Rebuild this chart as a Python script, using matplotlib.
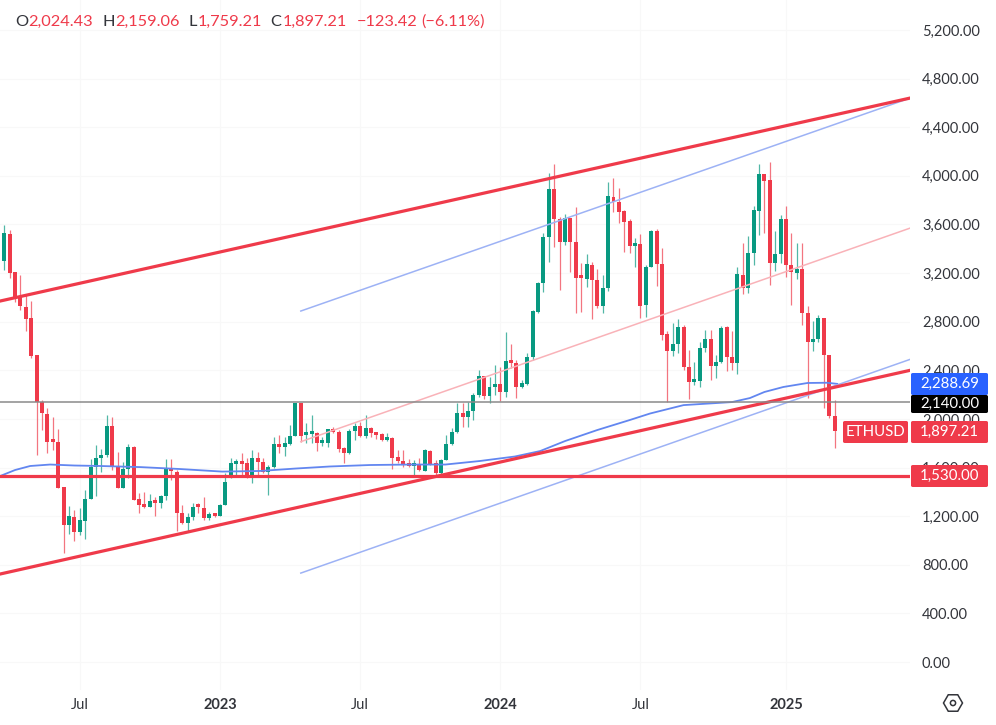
import math
import matplotlib
matplotlib.use("Agg")
import matplotlib.pyplot as plt
from matplotlib.patches import FancyBboxPatch, RegularPolygon, Circle

plt.rcParams['font.family'] = ['Lato', 'DejaVu Sans']

opens = [3300,3522,3206,3001,2924,2833,2526,2142,2038,1818,1807,1443,1127,1196,1067,1163,1338,1602,1681,1703,
1942,1615,1429,1585,1772,1338,1297,1278,1325,1311,1366,1593,1566,1223,1141,1196,1283,1270,1188,1218,
1204,1292,1538,1629,1648,1634,1517,1681,1648,1566,1602,1791,1772,1791,1859,2134,1868,1873,1887,1804,
1804,1914,1895,1758,1717,1903,1942,1859,1928,1890,1873,1826,1840,1689,1656,1634,1612,1621,1574,1739,
1634,1552,1662,1794,1895,2046,2019,2065,2197,2353,2191,2265,2285,2224,2477,2463,2260,2285,2507,2877,
3116,3494,3889,3645,3453,3651,3459,3171,3151,3267,3143,2929,3075,3829,3788,3714,3631,3423,3442,2938,
3247,3546,3275,2699,2559,2617,2759,2430,2301,2315,2581,2660,2438,2466,2754,2512,2457,3184,3075,3368,
3711,4015,3966,3280,3354,3645,3267,3198,3234,2869,2630,2655,2828,2526,2024.43]
closes = [3527,3204,2984,2929,2825,2518,2142,2046,1813,1807,1434,1127,1201,1067,1168,1338,1602,1681,1703,1942,
1607,1429,1585,1772,1333,1292,1278,1325,1311,1369,1593,1574,1223,1141,1196,1278,1272,1182,1218,1204,
1289,1484,1634,1648,1629,1511,1681,1643,1566,1602,1791,1772,1799,1859,2134,1859,1881,1887,1799,1826,
1914,1890,1750,1717,1903,1942,1859,1928,1881,1868,1826,1840,1681,1656,1626,1612,1634,1579,1744,1626,
1552,1662,1794,1895,2046,2019,2065,2197,2353,2191,2265,2285,2224,2477,2457,2260,2293,2512,2888,3121,
3494,3889,3645,3453,3651,3453,3160,3160,3272,3143,2929,3080,3834,3782,3700,3623,3423,3442,2929,3253,
3546,3272,2688,2559,2617,2759,2425,2301,2320,2586,2660,2438,2466,2751,2507,2457,3193,3075,3363,3719,
4015,3961,3280,3357,3645,3267,3212,3236,2869,2630,2660,2828,2526,2024,1897.21]
highs = [3596,3555,3212,3184,3028,2970,2526,2156,2087,2013,1914,1443,1286,1251,1264,1415,1668,1785,1750,2032,
2013,1725,1648,1794,1777,1388,1401,1382,1355,1374,1673,1673,1580,1292,1223,1305,1305,1355,1237,1229,
1300,1552,1676,1667,1717,1676,1744,1730,1676,1621,1848,1867,1854,1950,2134,2134,1969,2032,1895,1848,
1914,1931,1909,1772,1914,1964,1977,2032,1936,1895,1881,1881,1854,1744,1744,1667,1662,1676,1752,1744,
1662,1667,1867,1922,2134,2128,2142,2211,2403,2353,2348,2444,2430,2718,2617,2485,2320,2540,2896,3130,
3527,4021,4095,3664,3686,3656,3741,3280,3357,3294,3231,3184,3952,3980,3898,3719,3642,3486,3522,3267,
3555,3560,3404,2726,2787,2822,2773,2567,2471,2636,2732,2732,2526,2765,2765,2726,3253,3450,3505,3752,
4098,4015,4117,3549,3678,3752,3533,3450,3450,2929,2809,2855,2833,2526,2159.06]
lows = [3226,3157,2965,2896,2726,2499,1703,1909,1717,1744,1434,894,1053,998,1045,1012,1338,1366,1566,1689,
1580,1429,1429,1511,1333,1223,1264,1278,1201,1264,1333,1497,1080,1135,1072,1168,1223,1168,1168,1196,
1204,1292,1511,1538,1538,1511,1470,1538,1552,1374,1593,1717,1695,1785,1859,1813,1799,1799,1739,1777,
1772,1881,1730,1634,1711,1826,1854,1840,1854,1832,1821,1821,1585,1634,1607,1602,1530,1574,1574,1621,
1530,1538,1662,1785,1881,1936,1936,1991,2183,2161,2128,2197,2150,2183,2416,2169,2252,2279,2485,2869,
3047,3294,3418,3061,3431,3212,2874,2883,3083,2822,2910,2869,3055,3706,3615,3376,3363,3253,2828,2841,
3247,3094,2650,2142,2518,2545,2403,2161,2279,2260,2553,2320,2340,2457,2397,2403,2367,3028,3034,3267,
3514,3533,3102,3220,3280,3165,2938,3149,2773,2169,2559,2636,2087,2005,1759.21]

ma_weeks = [-0.8,2,4.8,8.5,13,17.8,25.2,32.6,40.4,47.4,54,60.4,67.8,75.3,81.8,88.2,94.7,99.4,104,110,116,119.8,126,135,138.3,141,144.5,149,152.6,154.5]
ma_prices = [1530,1580,1613,1625,1617,1613,1604,1588,1567,1572,1592,1609,1621,1625,1625,1654,1691,1736,1818,1909,1991,2045,2114,2139,2172,2222,2263,2296,2298,2288.69]

x_left, x_right = -0.8, 168.0
channel_upper_prices = [2970, 4640]
channel_lower_prices = [724, 2400]
blue_x = [55, 168.0]
blue_upper_prices = [2888, 4640]
blue_lower_prices = [732, 2490]
mid_x = [55, 168.0]
mid_prices = [1813, 3570]
support_level = 1530
resist_level = 2140

y_ticks = list(range(0, 5201, 400))
x_ticks = [14, 40, 66, 92, 118, 145]
x_labels = ['Jul', '2023', 'Jul', '2024', 'Jul', '2025']

UP, DOWN = '#089981', '#EF3A4A'
TEXT = '#33353b'
W, H = 996, 725
fig = plt.figure(figsize=(W/100, H/100), dpi=100, facecolor='white')
ax = fig.add_axes([0, 1-690/H, 910/W, 690/H])
ax.set_xlim(x_left, x_right)
ax.set_ylim(-230, 5447)
for s in ax.spines.values():
    s.set_visible(False)
ax.grid(True, color='#f8f8f8', lw=0.8)
ax.set_axisbelow(True)

idx = list(range(len(opens)))
colors = [UP if c >= o else DOWN for o, c in zip(opens, closes)]
ax.vlines(idx, lows, highs, colors=colors, lw=0.9, alpha=0.7, zorder=2)
ax.bar(idx, [max(abs(c-o), 25) for o, c in zip(opens, closes)],
       bottom=[min(o, c) for o, c in zip(opens, closes)], width=0.74, color=colors, lw=0, zorder=3)

ax.plot(ma_weeks, ma_prices, color='#6286F0', lw=1.3, zorder=4)
ax.plot(blue_x, blue_upper_prices, color='#9DB2F5', lw=1.1, zorder=4)
ax.plot(blue_x, blue_lower_prices, color='#9DB2F5', lw=1.1, zorder=4)
ax.plot(mid_x, mid_prices, color='#F9B2B8', lw=1.1, zorder=4)
ax.plot([x_left, x_right], channel_upper_prices, color=DOWN, lw=2.3, zorder=5)
ax.plot([x_left, x_right], channel_lower_prices, color=DOWN, lw=2.3, zorder=5)
ax.axhline(support_level, color=DOWN, lw=2.3, zorder=5)
ax.axhline(resist_level, color='#8a8a8a', lw=1.1, zorder=5)

ax.yaxis.tick_right()
ax.set_yticks(y_ticks)
ax.set_yticklabels([f'{v:,.2f}' for v in y_ticks])
ax.tick_params(axis='y', length=0, pad=8.6, labelsize=10.5, labelcolor=TEXT)
ax.set_xticks(x_ticks)
ax.set_xticklabels(x_labels)
ax.tick_params(axis='x', length=0, pad=6, labelsize=10.5, labelcolor=TEXT)
for t in ax.get_xticklabels():
    if t.get_text().isdigit():
        t.set_fontweight('bold')

def tag(x0, y0, x1, y1, col, label):
    fig.add_artist(FancyBboxPatch((x0/W, 1-y1/H), (x1-x0)/W, (y1-y0)/H, transform=fig.transFigure,
                                  boxstyle='round,pad=0,rounding_size=0.002', fc=col, ec='none', zorder=10))
    fig.text((x0+x1)/2/W, 1-(y0+y1)/2/H, label, color='white', fontsize=10.8,
             ha='center', va='center', zorder=11)

tag(911, 373, 988, 395, '#2962FF', '2,288.69')
tag(911, 395, 988, 413, 'black', '2,140.00')
tag(843, 421, 908, 443, DOWN, 'ETHUSD')
tag(911, 421, 988, 443, DOWN, '1,897.21')
tag(911, 465, 988, 487, DOWN, '1,530.00')

legend_parts = [(15, 'O', TEXT), (28, '2,024.43', DOWN), (102, 'H', TEXT), (115, '2,159.06', DOWN),
                (188, 'L', TEXT), (198, '1,759.21', DOWN), (270, 'C', TEXT), (283, '1,897.21', DOWN),
                (357, '\u2212123.42', DOWN), (421, '(\u22126.11%)', DOWN)]
for px, s, c in legend_parts:
    fig.text(px/W, 1-22/H, s, color=c, fontsize=11.8, ha='left', va='center')

fig.add_artist(RegularPolygon((953, H-703), 6, radius=9.5, orientation=math.pi/2, fc='none', ec=TEXT, lw=1.1,
                              transform=None))
fig.add_artist(Circle((953, H-703), 2.6, fc='none', ec=TEXT, lw=1.1, transform=None))

fig.savefig('out.png', dpi=100)
